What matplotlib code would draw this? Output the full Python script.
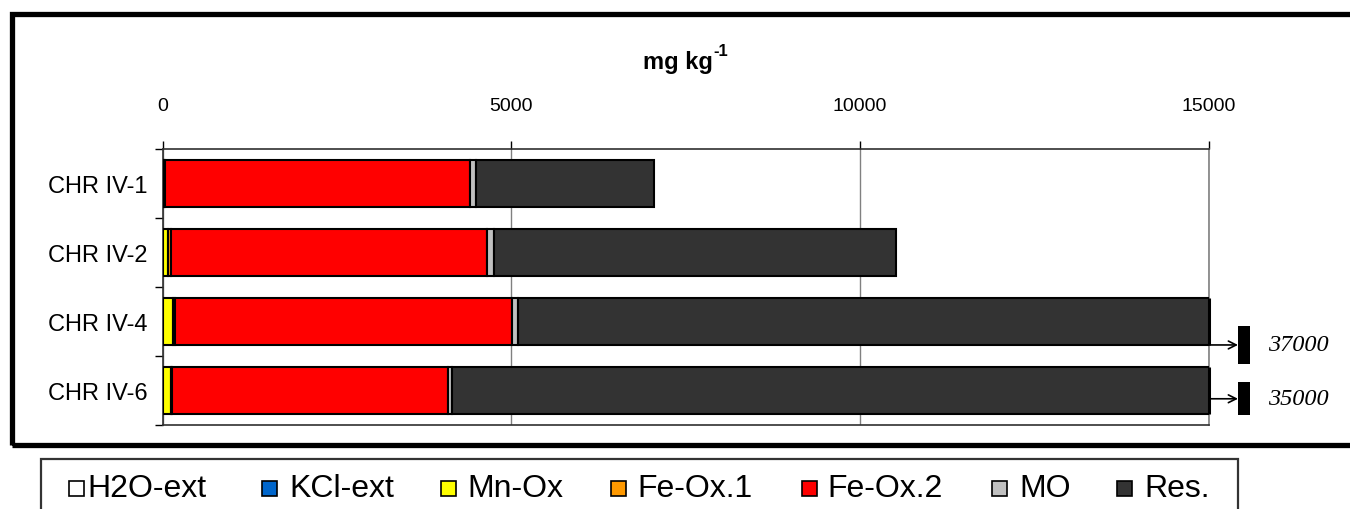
import matplotlib
matplotlib.use("Agg")
import matplotlib.pyplot as plt
from matplotlib.patches import Rectangle
from matplotlib.ticker import FixedLocator
import numpy as np

# Sequential extraction fractions (mg kg-1) per sample
categories = ["CHR IV-1", "CHR IV-2", "CHR IV-4", "CHR IV-6"]
fractions = ["H2O-ext", "KCl-ext", "Mn-Ox", "Fe-Ox.1", "Fe-Ox.2", "MO", "Res."]
h2o_ext = [3, 4, 4, 3]
kcl_ext = [5, 5, 6, 5]
mn_ox = [15, 65, 140, 120]
fe_ox1 = [10, 55, 35, 10]
fe_ox2 = [4372, 4516, 4825, 3952]
mo = [85, 105, 85, 55]
res = [2550, 5760, 31905, 30855]
x_ticks = [0, 5000, 10000, 15000]
x_max = 15000

colors = ["#FFFFFF", "#0066CC", "#FFFF00", "#FF9900", "#FF0000", "#C0C0C0", "#333333"]
series = [h2o_ext, kcl_ext, mn_ox, fe_ox1, fe_ox2, mo, res]

SANS = "Liberation Sans"

W, H = 1350, 510
fig = plt.figure(figsize=(W / 100, H / 100), dpi=100)

def fx(px):
    return px / W

def fy(py):
    return 1 - py / H

ax_left, ax_right, ax_top, ax_bot = 162.5, 1209, 150, 426
ax = fig.add_axes([fx(ax_left), fy(ax_bot), fx(ax_right - ax_left), (ax_bot - ax_top) / H])

y = np.arange(len(categories))
left = np.zeros(len(categories))
for vals, col in zip(series, colors):
    vals = np.asarray(vals, dtype=float)
    ax.barh(y, vals, left=left, height=0.67, color=col, edgecolor="black",
            linewidth=1.5, zorder=3)
    left += vals
totals = left

ax.set_xlim(0, x_max)
ax.set_ylim(len(categories) - 0.5, -0.5)

# closing edge for bars running off the scale
for yi, tot in zip(y, totals):
    if tot > x_max:
        ax.plot([x_max, x_max], [yi - 0.335, yi + 0.335], color="black", lw=2.2,
                clip_on=False, zorder=4, solid_capstyle="butt")

# x axis on top
ax.xaxis.set_ticks_position("top")
ax.xaxis.set_label_position("top")
ax.set_xticks(x_ticks)
ax.set_xticklabels([str(t) for t in x_ticks], family=SANS, fontsize=14)
ax.tick_params(axis="x", direction="out", length=6, width=1, pad=19, colors="black")
ax.grid(axis="x", color="#808080", lw=1, zorder=0)
ax.set_axisbelow(True)

# y axis: ticks on category boundaries, labels at centres
ax.yaxis.set_major_locator(FixedLocator(np.arange(-0.5, len(categories), 1.0)))
ax.yaxis.set_minor_locator(FixedLocator(y))
ax.set_yticklabels([], minor=False)
ax.set_yticklabels(categories, minor=True, family=SANS, fontsize=17)
ax.tick_params(axis="y", which="major", direction="out", length=6, width=1)
ax.tick_params(axis="y", which="minor", length=0, pad=11)

for side in ["top", "left", "bottom"]:
    ax.spines[side].set_color("#303030")
    ax.spines[side].set_linewidth(1.2)
ax.spines["right"].set_color("#808080")
ax.spines["right"].set_linewidth(1.2)

# axis unit title with a raised "-1"
t_main = fig.text(fx(643), fy(63), "mg kg", ha="left", va="center",
                  fontsize=17, fontweight="bold", family=SANS)
fig.canvas.draw()
bb = t_main.get_window_extent()
fig.text(bb.x1 / W + fx(1), fy(52), "-1", ha="left", va="center",
         fontsize=12, fontweight="bold", family=SANS)

# off-scale totals: arrow, break marker and value
px_per_unit = (ax_right - ax_left) / x_max
arrow_off = {2: 0.34, 3: 0.12}
for yi, tot in zip(y, totals):
    if tot <= x_max:
        continue
    ya = yi + arrow_off.get(yi, 0.2)
    x_tip = x_max + (1238 - ax_right) / px_per_unit
    ax.annotate("", xy=(x_tip, ya), xytext=(x_max, ya),
                arrowprops=dict(arrowstyle="->", color="black", lw=1.2,
                                shrinkA=0, shrinkB=0, mutation_scale=14),
                annotation_clip=False)
    bw = 12 / px_per_unit
    half = 0.27 if yi == 2 else 0.24
    ax.add_patch(Rectangle((x_tip, ya - half), bw, 2 * half, facecolor="black",
                           edgecolor="none", clip_on=False, zorder=5))
    ax.text(x_max + (1268 - ax_right) / px_per_unit, ya, f"{int(round(tot))}",
            ha="left", va="center", fontsize=17.5, style="italic",
            family="Liberation Serif", clip_on=False)

# outer frame around the chart panel
fig.patches.append(Rectangle((fx(12), fy(445.5)), fx(1400 - 12), (445.5 - 15) / H,
                             transform=fig.transFigure, fill=False,
                             edgecolor="black", lw=3.8, clip_on=False))

# legend box
fig.patches.append(Rectangle((fx(41), fy(540)), fx(1238 - 41), (540 - 460) / H,
                             transform=fig.transFigure, fill=False,
                             edgecolor="#333333", lw=1.6, clip_on=False))
sq_x = [69, 262, 441, 611, 802, 992, 1117]
tx_x = [87, 289, 467, 637, 827, 1019, 1144]
ly = 489
for name, col, sx, tx in zip(fractions, colors, sq_x, tx_x):
    fig.patches.append(Rectangle((fx(sx), fy(ly + 8)), fx(15), 15 / H,
                                 transform=fig.transFigure, facecolor=col,
                                 edgecolor="black", lw=1.2))
    fig.text(fx(tx), fy(ly), name, ha="left", va="center", fontsize=23,
             family=SANS)

fig.savefig("out.png", dpi=100)
